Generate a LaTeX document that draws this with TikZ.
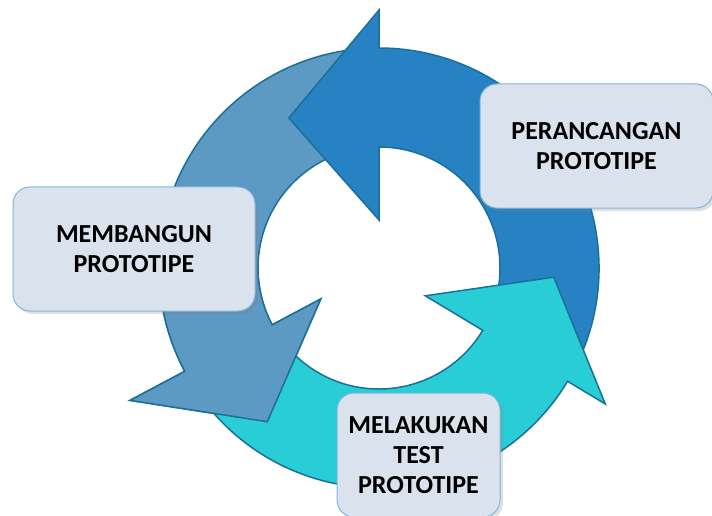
\documentclass[tikz,border=0pt]{standalone}
\usepackage{fontspec}
\setmainfont{Carlito}
\usepackage{tikz}
\usepackage{xcolor}
\usetikzlibrary{shadows}
\definecolor{ArrowDark}{HTML}{2782C4}
\definecolor{ArrowMid}{HTML}{5C99C3}
\definecolor{ArrowTeal}{HTML}{28CDD6}
\definecolor{ArrowEdge}{HTML}{1B6F99}
\definecolor{BoxFill}{HTML}{DAE2ED}
\definecolor{BoxEdge}{HTML}{80B5DB}

\begin{document}
\begin{tikzpicture}[x=1pt, y=1pt,
  stagebox/.style={draw=BoxEdge, line width=1pt, fill=BoxFill, rounded corners=17pt,
    inner sep=0pt, minimum height=124pt, align=center,
    font=\fontsize{26}{30}\selectfont\bfseries,
    drop shadow={shadow xshift=3pt, shadow yshift=-3pt, opacity=0.25}}]
  \useasboundingbox (0,0) rectangle (712,515);

  % Cycle arrows: colour / tail / head base / tip / outer barb / inner barb / tip radius
  \begin{scope}[shift={(379,247)}, line width=1.5pt, draw=ArrowEdge, line join=miter]
    \foreach \col/\tl/\bs/\tp/\ob/\ib/\tr in {ArrowMid/93/208/234/282/66/190,
        ArrowDark/-28/90/121/258/48/175, ArrowTeal/211/329/357/264/54/175} {
      \filldraw[fill=\col] (\tl:220) arc[start angle=\tl, end angle=\bs, radius=220]
        -- (\bs:\ob) -- (\tp:\tr) -- (\bs:\ib) -- (\bs:121)
        arc[start angle=\bs, end angle=\tl, radius=121] -- cycle;
    }
    % Membangun head again, over the tail of the teal arrow
    \begin{scope}
      \clip (0,0) -- (185:330) arc[start angle=185, end angle=250, radius=330] -- cycle;
      \filldraw[fill=ArrowMid] (93:220) arc[start angle=93, end angle=208, radius=220]
        -- (208:282) -- (234:190) -- (208:66) -- (208:121)
        arc[start angle=208, end angle=93, radius=121] -- cycle;
    \end{scope}
  \end{scope}

  % Stage boxes
  \node[stagebox, minimum width=233pt] (perancangan) at (596.5,369) {PERANCANGAN\\PROTOTIPE};
  \node[stagebox, minimum width=242pt] (membangun) at (134,266) {MEMBANGUN\\PROTOTIPE};
  \node[stagebox, minimum width=163pt] (pengujian) at (418.5,60) {MELAKUKAN\\TEST\\PROTOTIPE};
\end{tikzpicture}
\end{document}
